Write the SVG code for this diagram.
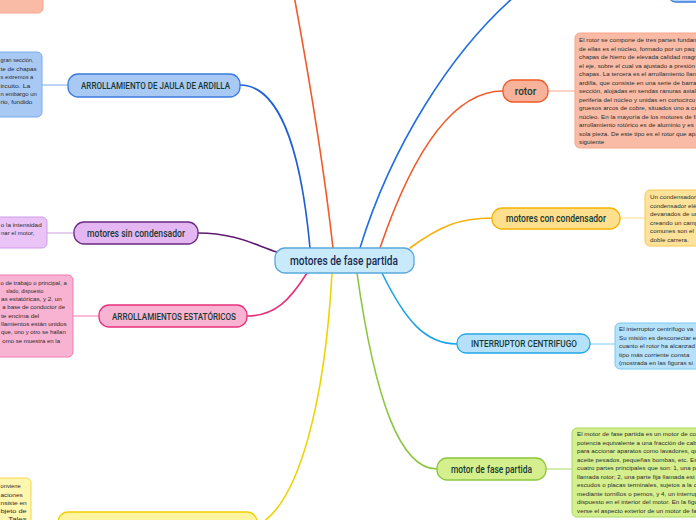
<svg xmlns="http://www.w3.org/2000/svg" width="696" height="520" viewBox="0 0 696 520">
<style>
.node{stroke-width:1.3}
.box{stroke-width:1}
.lbl{font-family:Roboto,"Liberation Sans",sans-serif;font-weight:500;fill:#183a34}
.txt{font-family:"Liberation Sans",Arial,sans-serif;font-size:6.2px;letter-spacing:0.05px;fill:#2b2b2b}
.br{fill:none;stroke-width:1.6;stroke-linecap:round}
.ln{fill:none;stroke-width:1}
</style>
<rect width="696" height="520" fill="#ffffff"/>
<g id="connectors">
<path class="br" stroke="#1f5fd6" d="M240,85 C276,85 300,140 310,248"/>
<path class="br" stroke="#f15a29" d="M333,248 C322,150 306,60 293,-10"/>
<path class="br" stroke="#1f6fe0" d="M360,248 C390,150 450,50 522,-10"/>
<path class="br" stroke="#f15a29" d="M380,248 C410,160 450,91 503,91"/>
<path class="br" stroke="#f6b10a" d="M410,248 C440,226 460,218 492,218"/>
<path class="br" stroke="#5e1a70" d="M198,233 C235,233 255,245 277,252"/>
<path class="br" stroke="#e8307a" d="M307,273 C290,300 275,316 247,316"/>
<path class="br" stroke="#eed300" d="M332,273 C325,400 300,500 260,524"/>
<path class="br" stroke="#8cc63f" d="M357,273 C375,400 400,469 437,469"/>
<path class="br" stroke="#1aa3e8" d="M382,273 C405,320 425,344 457,344"/>
<path class="ln" stroke="#7aa9ef" d="M42,85 H68"/>
<path class="ln" stroke="#c8a0d8" d="M47,233 H74"/>
<path class="ln" stroke="#f27ab0" d="M73,316 H99"/>
<path class="ln" stroke="#f7a58a" d="M548,91 H575"/>
<path class="ln" stroke="#fbd98a" d="M620,218 H645"/>
<path class="ln" stroke="#7cc8f0" d="M590,344 H615"/>
<path class="ln" stroke="#a8d860" d="M546,469 H572"/>
</g>
<g id="top-left-box"><rect class="box" x="-20" y="-20" width="63" height="33" rx="5" fill="#f9bba5" stroke="#f7a58a"/></g>
<g id="top-right-node"><rect class="node" x="668" y="-20" width="60" height="22" rx="8" fill="#b5d3f7" stroke="#3a7be0"/></g>
<g id="central">
<rect class="node" x="275" y="248" width="139" height="25" rx="10" fill="#c8eafb" stroke="#5aa8dc"/>
<text class="lbl" x="290" y="265" font-size="12" textLength="108" lengthAdjust="spacingAndGlyphs" style="fill:#1a2b50">motores de fase partida</text>
</g>
<g id="jaula">
<rect class="node" x="68" y="74" width="172" height="23" rx="10" fill="#a9c9f5" stroke="#3a7be0"/>
<text class="lbl" x="81" y="88.5" font-size="9" textLength="149" lengthAdjust="spacingAndGlyphs">ARROLLAMIENTO DE JAULA DE ARDILLA</text>
</g>
<g id="jaula-text">
<rect class="box" x="-20" y="52" width="62" height="65" rx="5" fill="#a9c9f5" stroke="#7aa9ef"/>
<g class="txt" style="letter-spacing:0">
<text x="0.5" y="62" textLength="33" lengthAdjust="spacingAndGlyphs">gran sección,</text>
<text x="0.5" y="71" textLength="36.2" lengthAdjust="spacingAndGlyphs">te de chapas</text>
<text x="0.5" y="79.3" textLength="32.8" lengthAdjust="spacingAndGlyphs">s extremos a</text>
<text x="0.5" y="88" textLength="29.8" lengthAdjust="spacingAndGlyphs">ircuito. La</text>
<text x="0.5" y="96.3" textLength="36.2" lengthAdjust="spacingAndGlyphs">n embargo un</text>
<text x="0.5" y="104.3" textLength="31.8" lengthAdjust="spacingAndGlyphs">rio, fundido</text>
</g>
</g>
<g id="sin-condensador">
<rect class="node" x="74" y="222" width="124" height="22" rx="10" fill="#e4b7f3" stroke="#6a2a80"/>
<text class="lbl" x="87" y="236.5" font-size="10" textLength="98" lengthAdjust="spacingAndGlyphs">motores sin condensador</text>
</g>
<g id="sin-condensador-text">
<rect class="box" x="-20" y="217" width="67" height="31" rx="5" fill="#ebc4f7" stroke="#cf9be8"/>
<g class="txt" style="letter-spacing:0">
<text x="0.7" y="227" textLength="41" lengthAdjust="spacingAndGlyphs">o la intensidad</text>
<text x="1" y="235" textLength="33.3" lengthAdjust="spacingAndGlyphs">nar el motor,</text>
</g>
</g>
<g id="estatoricos">
<rect class="node" x="99" y="305" width="148" height="22" rx="10" fill="#f9b3d2" stroke="#e8317c"/>
<text class="lbl" x="112" y="319.5" font-size="9" textLength="124" lengthAdjust="spacingAndGlyphs">ARROLLAMIENTOS ESTATÓRICOS</text>
</g>
<g id="estatoricos-text">
<rect class="box" x="-20" y="275" width="93" height="82" rx="5" fill="#f9b3d2" stroke="#f27ab0"/>
<g class="txt" style="letter-spacing:0">
<text x="0.5" y="285.3" textLength="66.2" lengthAdjust="spacingAndGlyphs">o de trabajo o principal, a</text>
<text x="6" y="292.7" textLength="37.3" lengthAdjust="spacingAndGlyphs">slado, dispuesto</text>
<text x="1" y="301" textLength="60.7" lengthAdjust="spacingAndGlyphs">as estatóricas, y 2, un</text>
<text x="2.3" y="309.3" textLength="62.7" lengthAdjust="spacingAndGlyphs">a base de conductor de</text>
<text x="1" y="317.7" textLength="38.3" lengthAdjust="spacingAndGlyphs">te encima del</text>
<text x="1" y="326" textLength="65.7" lengthAdjust="spacingAndGlyphs">llamientos están unidos</text>
<text x="1" y="334.3" textLength="64.7" lengthAdjust="spacingAndGlyphs">que, uno y otro se hallan</text>
<text x="2.3" y="342.7" textLength="57.7" lengthAdjust="spacingAndGlyphs">omo se muestra en la</text>
</g>
</g>
<g id="bottom-yellow">
<rect class="node" x="58" y="512" width="199" height="30" rx="10" fill="#fff4a0" stroke="#f0d000"/>
</g>
<g id="bottom-yellow-text">
<rect class="box" x="-20" y="478" width="51" height="60" rx="5" fill="#fff6b0" stroke="#f2d64a"/>
<g class="txt" style="letter-spacing:0">
<text x="0.5" y="488" textLength="20.2" lengthAdjust="spacingAndGlyphs">onviene</text>
<text x="0.5" y="496.7" textLength="22.2" lengthAdjust="spacingAndGlyphs">aciones</text>
<text x="0.5" y="504.7" textLength="26.2" lengthAdjust="spacingAndGlyphs">nsiste en</text>
<text x="0.5" y="513" textLength="26.2" lengthAdjust="spacingAndGlyphs">bjeto de</text>
<text x="4" y="521" textLength="22.7" lengthAdjust="spacingAndGlyphs">. Tales</text>
</g>
</g>
<g id="rotor">
<rect class="node" x="503" y="80" width="45" height="22" rx="10" fill="#f8b29a" stroke="#f05a28"/>
<text class="lbl" x="525.5" y="94.5" font-size="10" text-anchor="middle">rotor</text>
</g>
<g id="rotor-text">
<rect class="box" x="575" y="33" width="150" height="115" rx="5" fill="#f9bba5" stroke="#f7a58a"/>
<g class="txt">
<text x="579" y="42">El rotor se compone de tres partes fundam</text>
<text x="579" y="50.5">de ellas es el núcleo, formado por un  paq</text>
<text x="579" y="59">chapas de hierro de elevada calidad magn</text>
<text x="579" y="67.5">el eje, sobre el cual va  ajustado a presión</text>
<text x="579" y="76">chapas. La tercera es el arrollamiento llam</text>
<text x="579" y="84.5">ardilla, que  consiste en una serie de barra</text>
<text x="579" y="93">sección, alojadas en sendas ranuras axiale</text>
<text x="579" y="101.5">periferia del núcleo y unidas en cortocircu</text>
<text x="579" y="110">gruesos arcos de cobre, situados uno a ca</text>
<text x="579" y="118.5">núcleo. En la mayoría de los motores de fa</text>
<text x="579" y="127">arrollamiento rotórico es de aluminio  y es</text>
<text x="579" y="135.5">sola pieza. De este tipo es el rotor que apa</text>
<text x="579" y="144">siguiente</text>
</g>
</g>
<g id="con-condensador">
<rect class="node" x="492" y="208" width="128" height="21" rx="10" fill="#fddf8e" stroke="#f5b400"/>
<text class="lbl" x="506" y="221.5" font-size="10" textLength="100" lengthAdjust="spacingAndGlyphs">motores con condensador</text>
</g>
<g id="con-condensador-text">
<rect class="box" x="645" y="190" width="80" height="56" rx="5" fill="#fde39a" stroke="#f8c850"/>
<g class="txt">
<text x="650" y="199">Un condensador</text>
<text x="650" y="207.5">condensador elé</text>
<text x="650" y="216">devanados de un</text>
<text x="650" y="224.5">creando un camp</text>
<text x="650" y="233">comunes son el</text>
<text x="650" y="241.5">doble carrera.</text>
</g>
</g>
<g id="interruptor">
<rect class="node" x="457" y="334" width="133" height="19" rx="9" fill="#b5e2fa" stroke="#22a6e8"/>
<text class="lbl" x="471" y="347.3" font-size="8.5" textLength="106" lengthAdjust="spacingAndGlyphs">INTERRUPTOR CENTRIFUGO</text>
</g>
<g id="interruptor-text">
<rect class="box" x="615" y="323" width="110" height="46" rx="5" fill="#b5e2fa" stroke="#7cc8f0"/>
<g class="txt">
<text x="619" y="331">El interruptor centrífugo va</text>
<text x="619" y="339.5">Su misión es desconectar e</text>
<text x="619" y="348">cuanto el rotor ha alcanzad</text>
<text x="619" y="356.5">tipo más  corriente consta</text>
<text x="619" y="365">(mostrada en las figuras si</text>
</g>
</g>
<g id="motor-fase-partida">
<rect class="node" x="437" y="458" width="109" height="22" rx="10" fill="#d5ef8e" stroke="#8cc63f"/>
<text class="lbl" x="451" y="472.5" font-size="10" textLength="81" lengthAdjust="spacingAndGlyphs">motor de fase partida</text>
</g>
<g id="motor-fase-partida-text">
<rect class="box" x="572" y="428" width="150" height="89" rx="5" fill="#d5ef8e" stroke="#a8d860"/>
<g class="txt">
<text x="577" y="436">El motor de fase partida es un motor de co</text>
<text x="577" y="444.5">potencia equivalente a una fracción de  cab</text>
<text x="577" y="453">para accionar aparatos como lavadores, qu</text>
<text x="577" y="461.5">aceite pesados, pequeñas  bombas, etc. Es</text>
<text x="577" y="470">cuatro partes principales que son: 1, una p</text>
<text x="577" y="478.5">llamada rotor;  2, una parte fija llamada est</text>
<text x="577" y="487">escudos o placas terminales, sujetos a la ca</text>
<text x="577" y="495.5">mediante tornillos o pernos, y 4, un interrup</text>
<text x="577" y="504">dispuesto en el interior del motor. En la figu</text>
<text x="577" y="512.5">verse el aspecto exterior de un motor de fa</text>
</g>
</g>
</svg>
